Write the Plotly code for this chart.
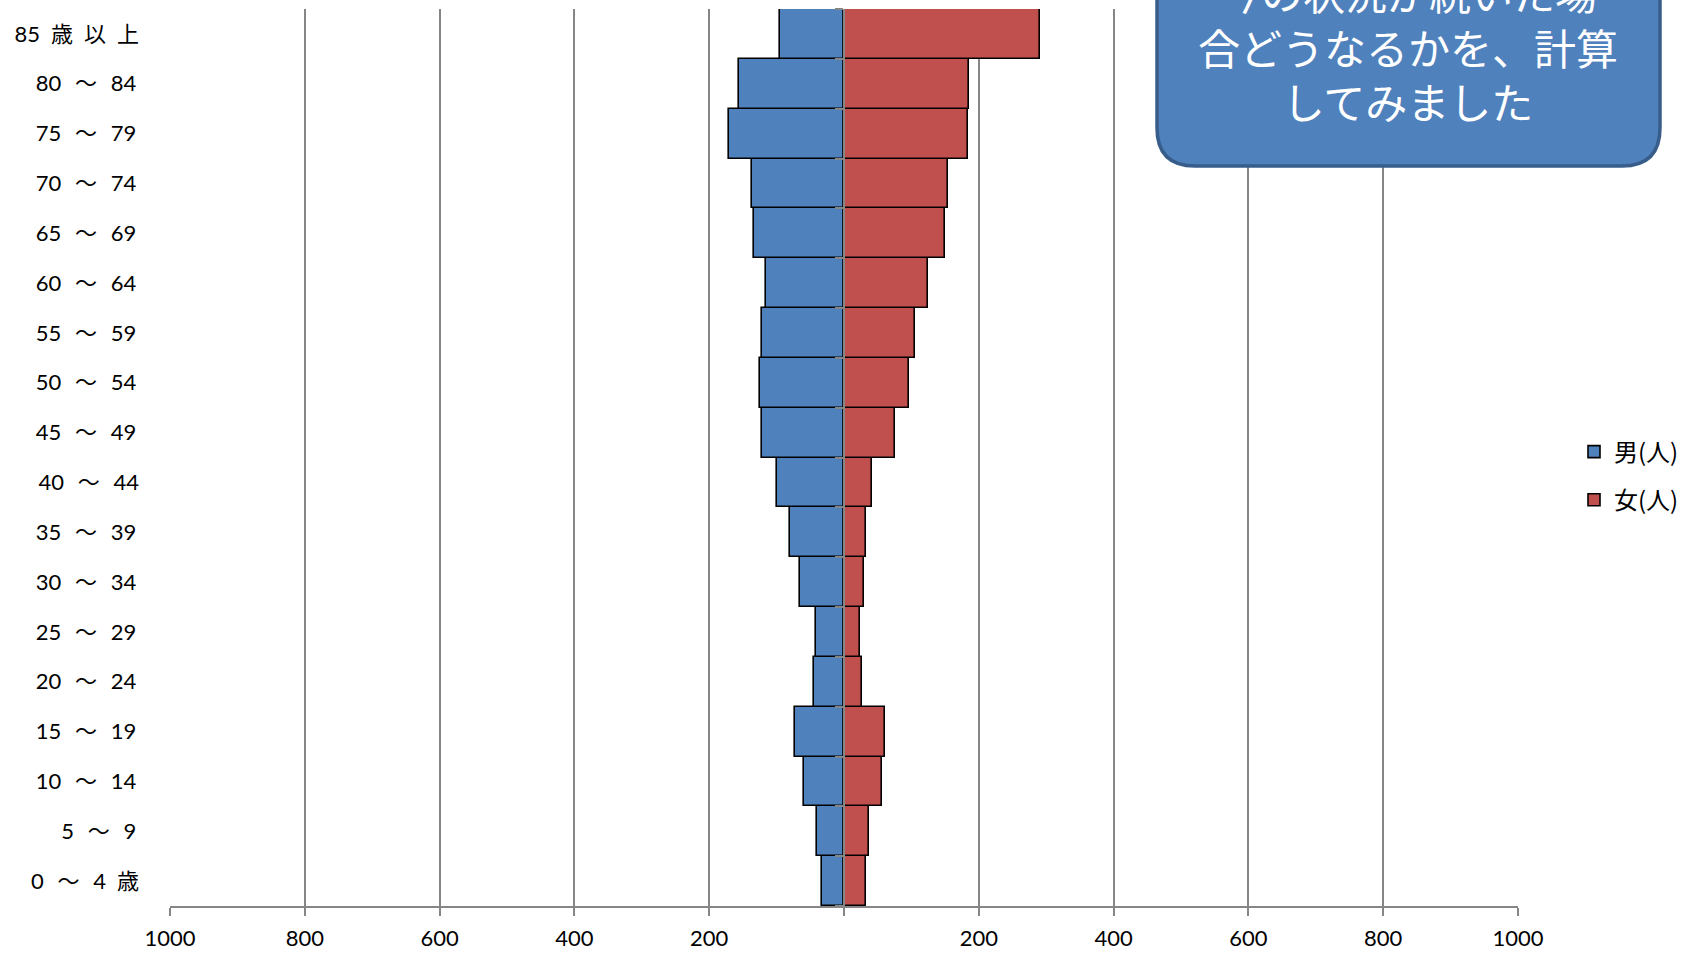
import plotly.graph_objects as go

# ---- data (bottom to top) ----
SP = "\u2002"          # en space between label parts
SW = "\u2002\u2009"    # slightly wider gap around the wave dash
TR = "\u2009"          # small trailing pad
age_groups = [f"0{SW}〜{SW}4{SP}歳", f"5{SW}〜{SW}9{TR}", f"10{SW}〜{SW}14{TR}",
              f"15{SW}〜{SW}19{TR}", f"20{SW}〜{SW}24{TR}", f"25{SW}〜{SW}29{TR}",
              f"30{SW}〜{SW}34{TR}", f"35{SW}〜{SW}39{TR}", f"40{SW}〜{SW}44",
              f"45{SW}〜{SW}49{TR}", f"50{SW}〜{SW}54{TR}", f"55{SW}〜{SW}59{TR}",
              f"60{SW}〜{SW}64{TR}", f"65{SW}〜{SW}69{TR}", f"70{SW}〜{SW}74{TR}",
              f"75{SW}〜{SW}79{TR}", f"80{SW}〜{SW}84{TR}", f"85{SP}歳{SP}以{SP}上"]
male = [33, 40, 59, 72, 45, 41, 65, 80, 100, 121, 125, 121, 116, 133, 137, 170, 156, 95]
female = [32, 37, 56, 61, 26, 24, 29, 33, 42, 75, 97, 105, 124, 150, 154, 184, 186, 291]
tick_values = [-1000, -800, -600, -400, -200, 0, 200, 400, 600, 800, 1000]
tick_texts = ["1000", "800", "600", "400", "200", "", "200", "400", "600", "800", "1000"]
series_names = ["男(人)", "女(人)"]
note_lines = ["今の状況が続いた場", "合どうなるかを、計算", "してみました"]

# ---- layout geometry (pixels) ----
W, H = 1683, 953
L, R, T, B = 170, 1518, 9, 906
PW, PH = R - L, B - T


def px_x(x):
    return (x - L) / PW


def px_y(y):
    return (B - y) / PH


GRAY = "#868686"
BLUE = "#4F81BD"
RED = "#C0504D"
FONT = "Lato, 'Noto Sans CJK JP', sans-serif"
CJK = "'Noto Sans CJK JP', sans-serif"

fig = go.Figure()
fig.add_trace(go.Bar(
    y=age_groups, x=[-v for v in male], orientation="h", name=series_names[0],
    marker=dict(color=BLUE, line=dict(color="black", width=1.6)),
    legendgroup="m", customdata=male, hovertemplate="%{y}: %{customdata}<extra></extra>"))
fig.add_trace(go.Bar(
    y=age_groups, x=female, orientation="h", name=series_names[1],
    marker=dict(color=RED, line=dict(color="black", width=1.6)),
    legendgroup="f", hovertemplate="%{y}: %{x}<extra></extra>"))
# invisible helper trace carrying the centre axis (tick marks at category boundaries)
fig.add_trace(go.Scatter(
    y=age_groups, x=[0] * len(age_groups), yaxis="y2", mode="markers",
    marker=dict(opacity=0), showlegend=False, hoverinfo="skip"))

# rounded note box
x0, x1 = px_x(1157), px_x(1660)
y0, y1 = px_y(166), px_y(-80)
rx, ry = 38 / PW, 38 / PH
path = (f"M {x0+rx},{y1} L {x1-rx},{y1} Q {x1},{y1} {x1},{y1-ry} "
        f"L {x1},{y0+ry} Q {x1},{y0} {x1-rx},{y0} L {x0+rx},{y0} "
        f"Q {x0},{y0} {x0},{y0+ry} L {x0},{y1-ry} Q {x0},{y1} {x0+rx},{y1} Z")
fig.add_shape(type="path", path=path, xref="paper", yref="paper",
              fillcolor=BLUE, line=dict(color="#385D8A", width=3.5), layer="above")
fig.add_annotation(text="<br>".join(note_lines), xref="paper", yref="paper",
                   x=px_x(1408), y=px_y(46), xanchor="center", yanchor="middle",
                   showarrow=False, align="center",
                   font=dict(family=CJK, size=42, color="white"))

fig.update_layout(
    width=W, height=H,
    margin=dict(l=L, r=W - R, t=T, b=H - B, pad=0, autoexpand=False),
    paper_bgcolor="white", plot_bgcolor="white",
    barmode="relative", bargap=0,
    font=dict(family=FONT, size=22, color="black"),
    showlegend=True,
    legend=dict(x=px_x(1574), y=px_y(476), xanchor="left", yanchor="middle",
                traceorder="grouped", tracegroupgap=14, itemwidth=30,
                font=dict(family=CJK, size=24, color="black"),
                bgcolor="rgba(0,0,0,0)"),
    xaxis=dict(range=[-1000, 1000], tickmode="array", tickvals=tick_values,
               ticktext=tick_texts, showgrid=True, gridcolor=GRAY, gridwidth=1.5,
               zeroline=False, showline=True, linecolor=GRAY, linewidth=2,
               ticks="outside", ticklen=8, tickcolor=GRAY, tickwidth=1.5,
               ticklabelstandoff=4, tickfont=dict(size=22), mirror=False,
               automargin=False, fixedrange=True),
    yaxis=dict(type="category", categoryarray=age_groups, categoryorder="array",
               range=[-0.5, len(age_groups) - 0.5], showgrid=False, zeroline=False,
               showline=False, ticks="", ticklabelstandoff=30,
               tickfont=dict(size=22), automargin=False, fixedrange=True),
    yaxis2=dict(type="category", categoryarray=age_groups, categoryorder="array",
                range=[-0.5, len(age_groups) - 0.5], overlaying="y", anchor="free",
                position=0.5, side="left", showgrid=False, zeroline=False,
                showline=True, linecolor=GRAY, linewidth=2, ticks="outside",
                tickson="boundaries", ticklen=8, tickcolor=GRAY, tickwidth=1.5,
                showticklabels=False, automargin=False, fixedrange=True),
)

fig.write_html("out.html", config={"displayModeBar": False},
               post_script="document.body.style.margin='0';")
